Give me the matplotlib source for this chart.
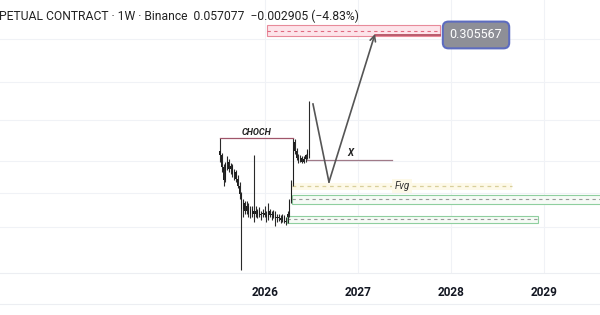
import matplotlib
matplotlib.use("Agg")
import matplotlib.pyplot as plt
from matplotlib.lines import Line2D
from matplotlib.patches import Rectangle
import numpy as np

plt.rcParams['font.family'] = ['Roboto', 'DejaVu Sans']

# weekly candles, starting early July 2025
start_year = 2025.516
week = 7 / 365.25
opens = [0.060, 0.057, 0.048, 0.040, 0.050, 0.052, 0.047, 0.049, 0.044, 0.045,
         0.041, 0.037, 0.033, 0.027, 0.029, 0.026, 0.028, 0.025, 0.027, 0.025,
         0.026, 0.025, 0.026, 0.0245, 0.025, 0.0255, 0.0245, 0.024, 0.026, 0.0245,
         0.025, 0.024, 0.0235, 0.024, 0.0235, 0.023, 0.024, 0.0228, 0.024, 0.025,
         0.030, 0.038, 0.068, 0.060, 0.055, 0.053, 0.055, 0.052, 0.054, 0.057,
         0.060]
highs = [0.072, 0.059, 0.050, 0.052, 0.056, 0.054, 0.051, 0.050, 0.047, 0.046,
         0.043, 0.039, 0.034, 0.031, 0.030, 0.030, 0.029, 0.028, 0.028, 0.057,
         0.028, 0.027, 0.0275, 0.026, 0.027, 0.028, 0.026, 0.029, 0.027, 0.026,
         0.0265, 0.026, 0.025, 0.025, 0.0245, 0.025, 0.0245, 0.024, 0.026, 0.031,
         0.040, 0.072, 0.071, 0.063, 0.058, 0.057, 0.056, 0.056, 0.058, 0.062,
         0.121]
lows = [0.052, 0.045, 0.037, 0.039, 0.046, 0.045, 0.044, 0.042, 0.040, 0.039,
        0.036, 0.031, 0.0114, 0.024, 0.025, 0.025, 0.024, 0.0235, 0.024, 0.0225,
        0.024, 0.0235, 0.024, 0.023, 0.024, 0.024, 0.0225, 0.023, 0.024, 0.023,
        0.0235, 0.021, 0.0225, 0.0228, 0.022, 0.0225, 0.022, 0.0215, 0.022, 0.024,
        0.029, 0.037, 0.058, 0.053, 0.051, 0.052, 0.051, 0.051, 0.052, 0.054,
        0.055]
closes = [0.057, 0.048, 0.040, 0.050, 0.052, 0.047, 0.049, 0.044, 0.045, 0.041,
          0.037, 0.033, 0.027, 0.029, 0.026, 0.028, 0.025, 0.027, 0.025, 0.026,
          0.025, 0.026, 0.0245, 0.025, 0.0255, 0.0245, 0.024, 0.026, 0.0245, 0.025,
          0.024, 0.0235, 0.024, 0.0235, 0.023, 0.024, 0.0228, 0.0225, 0.025, 0.030,
          0.038, 0.068, 0.060, 0.055, 0.053, 0.055, 0.052, 0.054, 0.057, 0.060,
          0.057077]

# drawings (x in years, y in price)
choch_x = [2025.516, 2026.301]
choch_y = 0.0724
x_line_x = [2026.452, 2027.366]
x_line_y = 0.0532
zigzag_x = [2026.516, 2026.688, 2027.183]
zigzag_y = [0.1164, 0.0391, 0.310]
target_x = [2026.022, 2027.882]
target_y = [0.301, 0.351]
target_price = 0.305567
fvg_x = [2026.290, 2028.656]
fvg_y = [0.0350, 0.0386]
zone1_x = [2026.290, 2029.7]
zone1_y = [0.0288, 0.0326]
zone2_x = [2026.237, 2028.935]
zone2_y = [0.0221, 0.0243]
grid_prices = [0.29, 0.158, 0.093, 0.0525, 0.0336, 0.0208]
years = [2026, 2027, 2028, 2029]

fig = plt.figure(figsize=(6, 3.15), dpi=100)
ax = fig.add_axes([0, 42 / 315, 1, 273 / 315])
ax.set_yscale('log')
ax.set_xlim(2023.151, 2029.602)
ax.set_ylim(0.01096, 0.4983)

for p in grid_prices:
    ax.axhline(p, color='#f0f2f6', lw=0.8, zorder=0)
for yr in years:
    ax.axvline(yr, color='#f0f2f6', lw=0.8, zorder=0)

# candles
t = start_year + np.arange(len(opens)) * week
o = np.array(opens)
c = np.array(closes)
ax.vlines(t, lows, highs, color='#2a2a2a', lw=0.8, zorder=3)
ax.bar(t, np.abs(c - o), bottom=np.minimum(o, c), width=0.6 * week,
       color='#1e1e1e', zorder=3)

# zones
def zone(xs, ys, fc, ec, line_col, lw=0.8):
    ax.add_patch(Rectangle((xs[0], ys[0]), xs[1] - xs[0], ys[1] - ys[0],
                           fc=fc, ec=ec, lw=lw, zorder=2))
    mid = np.sqrt(ys[0] * ys[1])
    ax.plot(xs, [mid, mid], color=line_col, lw=0.8, ls=(0, (3, 3)), zorder=2)

zone(target_x, target_y, '#fde4ea', '#e88a9a', '#e06a80')
zone(zone1_x, zone1_y, '#f6fbf6', '#8fcf9f', '#9a9a9a')
zone(zone2_x, zone2_y, '#f6fbf6', '#8fcf9f', '#9a9a9a')
ax.add_patch(Rectangle((fvg_x[0], fvg_y[0]), fvg_x[1] - fvg_x[0], fvg_y[1] - fvg_y[0],
                       fc='#fdf9e8', ec='none', zorder=1))
fvg_mid = np.sqrt(fvg_y[0] * fvg_y[1])
ax.plot(fvg_x, [fvg_mid, fvg_mid], color='#d8cf9a', lw=0.9, ls=(0, (3, 3)), zorder=2)
ax.text(2027.473, fvg_mid, 'Fvg', fontsize=7, style='italic', color='#333333',
        ha='center', va='center', zorder=4,
        bbox=dict(fc='#fdf9e8', ec='none', pad=1.5))

# target price line
ax.plot([zigzag_x[-1], target_x[1]], [target_price, target_price],
        color='#a8364a', lw=1.1, zorder=3)

# CHOCH and X
ax.plot(choch_x, [choch_y, choch_y], color='#a0566a', lw=0.9, zorder=3)
ax.text(2025.914, choch_y * 1.085, 'CHOCH', fontsize=6.5, style='italic',
        fontweight='bold', color='#222222', ha='center', va='center')
ax.plot(x_line_x, [x_line_y, x_line_y], color='#a07a88', lw=0.9, zorder=3)
ax.text(2026.914, 0.0587, 'X', fontsize=7, style='italic', fontweight='bold',
        color='#222222', ha='center', va='center')

# projected path
ax.plot(zigzag_x[:2], zigzag_y[:2], color='#555555', lw=1.2, zorder=4)
ax.annotate('', xy=(zigzag_x[2], zigzag_y[2]), xytext=(zigzag_x[1], zigzag_y[1]),
            arrowprops=dict(arrowstyle='->', color='#555555', lw=1.2,
                            shrinkA=0, shrinkB=0), zorder=4)

ax.text(2028.269, target_price, f'{target_price:.6f}', fontsize=9, color='white',
        ha='center', va='center', zorder=6,
        bbox=dict(boxstyle='round,pad=0.55,rounding_size=0.45', fc='#8e8f97',
                  ec='#5d6cc0', lw=1.5))

ax.set_xticks(years)
ax.set_xticklabels([str(y) for y in years], fontsize=8.5, fontweight='bold',
                   color='#131722')
ax.tick_params(axis='x', length=0, pad=9)
ax.set_yticks([])
ax.yaxis.set_minor_locator(matplotlib.ticker.NullLocator())
for s in ['top', 'left', 'right']:
    ax.spines[s].set_visible(False)
ax.spines['bottom'].set_color('#eceef2')

fig.add_artist(Line2D([0, 1], [1 - 304 / 315, 1 - 304 / 315], color='#eceef2', lw=0.8))
fig.text(-0.002, 1 - 16 / 315, 'PETUAL CONTRACT · 1W · Binance  0.057077  \u22120.002905 (\u22124.83%)',
         fontsize=8.7, color='#222222', ha='left', va='center')

fig.savefig('out.png', dpi=100)
